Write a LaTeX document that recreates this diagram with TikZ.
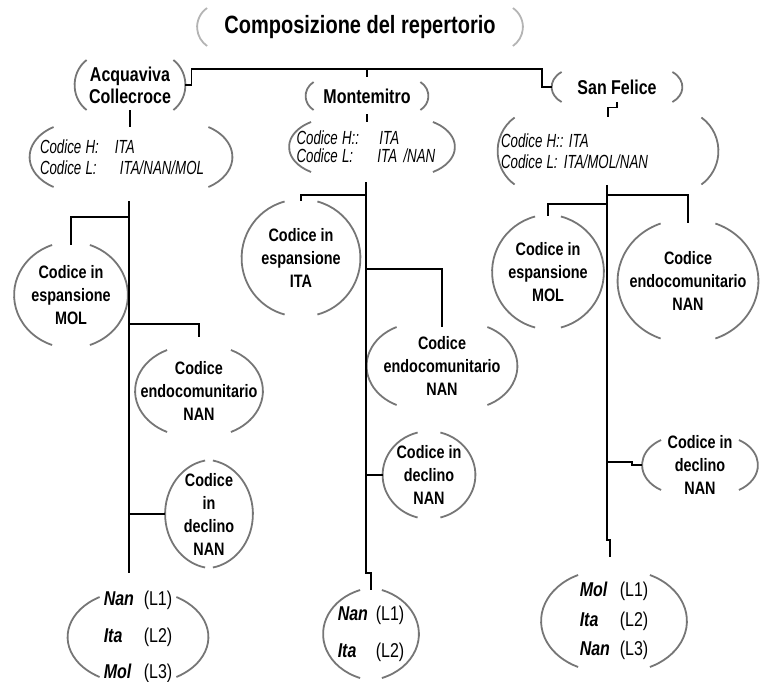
\documentclass[tikz,border=0pt]{standalone}
\usepackage{fontspec}
\setmainfont{Liberation Sans}[FakeStretch=0.8]
\newfontfamily\infofont{Liberation Sans}[FakeStretch=0.7]
\definecolor{arcgray}{RGB}{118,118,118}
\definecolor{titlegray}{RGB}{180,180,180}
\newcommand{\langrow}[3][20pt]{\makebox[#1][l]{\textbf{\textit{#2}}}(#3)}
\newcommand{\codrow}[3]{\makebox[#1][l]{Codice\hspace{0.22em}#2}#3}
\tikzset{
  link/.style={
    draw=black,
    line width=0.6pt
  },
  brk/.style={
    draw=arcgray,
    line width=0.9pt
  },
  dims/.style 2 args={
    minimum width=#1,
    minimum height=#2
  },
  place/.style={
    font=\fontsize{10}{11}\selectfont\bfseries,
    align=center,
    inner sep=0pt
  },
  idea/.style={
    font=\fontsize{9}{11.5}\selectfont\bfseries,
    align=center,
    inner sep=0pt
  },
  info/.style={
    font=\infofont\fontsize{9.5}{10.5}\selectfont\itshape,
    align=left,
    inner ysep=0pt
  },
  langs/.style={
    font=\fontsize{10}{18.25}\selectfont,
    align=left,
    inner xsep=0pt,
    inner ysep=-4pt
  }
}
\begin{document}
\begin{tikzpicture}[x=0.5pt,y=-0.5pt]
\useasboundingbox (0,0) rectangle (760,681);

% title and the three villages
\node[place, dims={162.5pt}{19pt}, font=\fontsize{12.5}{14}\selectfont\bfseries] (title) at (360,27) {Composizione del repertorio};
\node[place, dims={55pt}{25pt}] (acq) at (130,85) {Acquaviva\\Collecroce};
\node[place, dims={61pt}{14pt}] (mon) at (367,96) {Montemitro};
\node[place, dims={65pt}{15pt}] (sfe) at (617,87) {San Felice};

% codes H / L
\node[info, text width=91pt, inner xsep=5pt, minimum height=30pt] (acqinfo) at (131,157)
  {\codrow{37.5pt}{H:}{ITA}\\\codrow{40pt}{L:}{ITA/NAN/MOL}};
\node[info, text width=75.5pt, inner xsep=3.5pt, minimum height=25pt] (moninfo) at (372,147)
  {\codrow{41.5pt}{H::}{ITA}\\[-1.5pt]\codrow{40.5pt}{L:}{ITA /NAN}};
\node[info, text width=107pt, inner xsep=1.5pt, minimum height=33.5pt] (sfeinfo) at (608,151)
  {\codrow{34pt}{H::}{ITA}\\\codrow{31.5pt}{L:}{ITA/MOL/NAN}};

% Acquaviva Collecroce
\node[idea, dims={56.5pt}{50pt}] (acqmol) at (71,295) {Codice in\\espansione\\MOL};
\node[idea, dims={63.5pt}{41pt}] (acqendo) at (199,391) {Codice\\endocomunitario\\NAN};
\node[idea, dims={43.5pt}{53.5pt}] (acqdec) at (209,514) {Codice\\in\\declino\\NAN};
\node[langs, dims={70pt}{40pt}] (acqbot) at (138,637)
  {\langrow{Nan}{L1}\\\langrow{Ita}{L2}\\\langrow{Mol}{L3}};

% Montemitro
\node[idea, dims={59pt}{56.5pt}] (monita) at (301,258) {Codice in\\espansione\\ITA};
\node[idea, dims={75pt}{39pt}] (monendo) at (442,366) {Codice\\endocomunitario\\NAN};
\node[idea, dims={46pt}{42.5pt}] (mondec) at (429,475) {Codice in\\declino\\NAN};
\node[langs, dims={47.5pt}{44pt}, font=\fontsize{10}{18.5}\selectfont] (monbot) at (371,634)
  {\langrow[19pt]{Nan}{L1}\\\langrow[19pt]{Ita}{L2}};

% San Felice
\node[idea, dims={55.5pt}{55.5pt}] (sfemol) at (548,272) {Codice in\\espansione\\MOL};
\node[idea, dims={70pt}{57.5pt}] (sfeendo) at (688,281) {Codice\\endocomunitario\\NAN};
\node[idea, dims={57.5pt}{25pt}] (sfedec) at (700,465) {Codice in\\declino\\NAN};
\node[langs, dims={72.5pt}{46pt}, font=\fontsize{10}{14.75}\selectfont] (sfebot) at (614,621)
  {\langrow{Mol}{L1}\\\langrow{Ita}{L2}\\\langrow{Nan}{L3}};

% brackets: name / inset of the tips / half height / half angle / colour
\foreach \n/\k/\h/\t/\c in {title/5/9.5/55/titlegray, acq/6/12.5/55/arcgray, mon/4/7/55/arcgray,
                   sfe/5/7.5/55/arcgray, acqinfo/12/15/60/arcgray, moninfo/11/12.5/60/arcgray,
                   sfeinfo/8.5/16.75/55/arcgray,
                   acqmol/19/25/70/arcgray, acqendo/16/20.5/65/arcgray, acqdec/20/26.75/80/arcgray,
                   acqbot/16/20/60/arcgray,
                   monita/21.5/28.25/75/arcgray, monendo/15/19.5/65/arcgray, mondec/17.5/21.25/75/arcgray,
                   monbot/18.5/22/70/arcgray,
                   sfemol/21.5/27.75/75/arcgray, sfeendo/21.5/28.75/70/arcgray, sfedec/9.5/12.5/60/arcgray,
                   sfebot/18.5/23/65/arcgray}{
  \pgfmathsetmacro{\rx}{\k/(1-cos(\t))}
  \pgfmathsetmacro{\ry}{\h/sin(\t)}
  \draw[brk, draw=\c] ([xshift=\rx pt]\n.west) ++(180-\t:\rx pt and \ry pt)
    arc[start angle=180-\t, end angle=180+\t, x radius=\rx pt, y radius=\ry pt];
  \draw[brk, draw=\c] ([xshift=-\rx pt]\n.east) ++(\t:\rx pt and \ry pt)
    arc[start angle=\t, end angle=-\t, x radius=\rx pt, y radius=\ry pt];
}

% top links
\coordinate (top) at (367,69);
\draw[link] (acq.east) -- ++(6,0) |- (top) -| ++(175,18) -- (sfe.west);
\draw[link, shorten >=2.5pt] (top) -- (mon);
\draw[link] (acq.south) -- (acq.south |- acqinfo.north);
\draw[link, shorten <=2pt] (mon.south) -- (mon.south |- moninfo.north);
\draw[link] (sfe.south) -- ++(0,5) -| (sfeinfo.north);

% trunks
\coordinate (a1) at (129,217);
\coordinate (a2) at (129,324);
\coordinate (a3) at (129,514);
\coordinate (aend) at (129,573);
\coordinate (m1) at (366,195);
\coordinate (m2) at (366,269);
\coordinate (m3) at (366,475);
\coordinate (mend) at (366,573);
\coordinate (s1) at (607,204);
\coordinate (s2) at (607,195);
\coordinate (s3) at (607,462);
\coordinate (send) at (607,540);

\draw[link, shorten <=7pt] (acqinfo.south -| aend) -- (aend);
\draw[link] (a1) -| (acqmol);
\draw[link, shorten >=6.5pt] (a2) -| (acqendo);
\draw[link] (a3) -- (acqdec);

\draw[link, shorten <=5pt] (moninfo.south -| mend) -- (mend) -| (monbot);
\draw[link] (m1) -| (monita);
\draw[link] (m2) -| (monendo);
\draw[link] (m3) -- (mondec);

\draw[link] (sfeinfo.south -| send) -- (send) -- ++(3,0) -- ++(0,17);
\draw[link] (s1) -| (sfemol);
\draw[link] (s2) -| (sfeendo);
\draw[link] (s3) -- ++(25,0) |- (sfedec.west);
\end{tikzpicture}
\end{document}
